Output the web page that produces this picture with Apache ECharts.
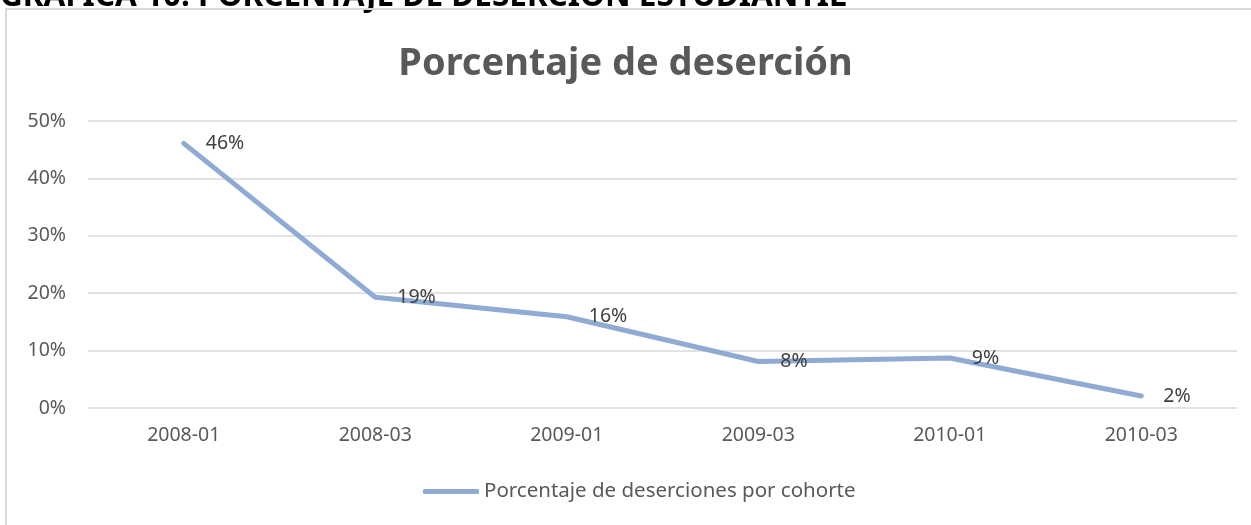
<!DOCTYPE html>
<html>
<head>
<meta charset="utf-8">
<script src="https://cdn.jsdelivr.net/npm/echarts@6/dist/echarts.min.js"></script>
<style>
  html, body { margin: 0; padding: 0; background: #fff; }
  #chart { width: 1251px; height: 525px; }
</style>
</head>
<body>
<div id="chart"></div>
<script>
var cohortes = ["2008-01", "2008-03", "2009-01", "2009-03", "2010-01", "2010-03"];
var desercion = [0.461, 0.193, 0.159, 0.081, 0.087, 0.021];
var serieNombre = "Porcentaje de deserciones por cohorte";

var chart = echarts.init(document.getElementById("chart"));
var font = "'Noto Sans', sans-serif";

var option = {
  backgroundColor: "#fff",
  animation: false,
  graphic: [
    {
      type: "text",
      left: 0,
      top: -19,
      style: {
        text: "GRÁFICA 10: PORCENTAJE DE DESERCIÓN ESTUDIANTIL",
        font: "bold 31.5px " + font,
        fill: "#000"
      }
    },
    {
      type: "rect",
      shape: { x: 6, y: 9, width: 1260, height: 530 },
      style: { fill: null, stroke: "#d9d9d9", lineWidth: 2 }
    }
  ],
  title: {
    text: "Porcentaje de deserción",
    left: "center",
    top: 40,
    textStyle: {
      color: "#595959",
      fontFamily: font,
      fontWeight: "bold",
      fontSize: 38
    }
  },
  legend: {
    bottom: 18,
    left: 418,
    data: [serieNombre],
    itemWidth: 56,
    itemHeight: 5,
    itemGap: 2,
    icon: "roundRect",
    textStyle: { color: "#595959", fontFamily: font, fontSize: 20.5 }
  },
  grid: { left: 88, right: 14, top: 121, bottom: 117 },
  xAxis: {
    type: "category",
    data: cohortes,
    boundaryGap: true,
    axisLine: { show: false },
    axisTick: { show: false },
    axisLabel: { color: "#595959", fontFamily: font, fontSize: 19.5, margin: 17 }
  },
  yAxis: {
    type: "value",
    min: 0,
    max: 0.5,
    interval: 0.1,
    axisLine: { show: false },
    axisTick: { show: false },
    splitLine: { lineStyle: { color: "#d9d9d9", width: 1.5 } },
    axisLabel: {
      color: "#595959",
      fontFamily: font,
      fontSize: 19.5,
      margin: 22,
      formatter: function (v) { return Math.round(v * 100) + "%"; }
    }
  },
  series: [
    {
      name: serieNombre,
      type: "line",
      data: desercion,
      symbol: "circle",
      symbolSize: 0.1,
      showSymbol: true,
      itemStyle: { color: "#8faad3" },
      lineStyle: { color: "#8faad3", width: 5, cap: "round", join: "round" },
      label: {
        show: true,
        position: "right",
        distance: 22,
        color: "#404040",
        fontFamily: font,
        fontSize: 19.5,
        formatter: function (p) { return Math.round(p.value * 100) + "%"; }
      }
    }
  ]
};

chart.setOption(option);
</script>
</body>
</html>
